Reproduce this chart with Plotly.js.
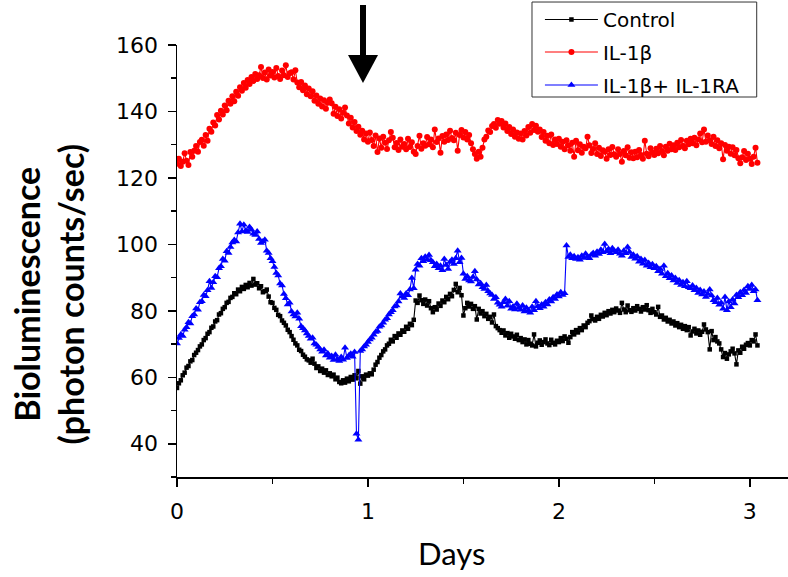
<!DOCTYPE html>
<html>
<head>
<meta charset="utf-8">
<script src="https://cdn.plot.ly/plotly-3.0.1.min.js"></script>
<style>
  html, body { margin: 0; padding: 0; background: #ffffff; }
  #chart { width: 788px; height: 577px; }
</style>
</head>
<body>
<div id="chart"></div>
<script>
// Sampling times (days), one reading every 0.01 day
const days = [
  0.00, 0.01, 0.02, 0.03, 0.04, 0.05, 0.06, 0.07, 0.08, 0.09,
  0.10, 0.11, 0.12, 0.13, 0.14, 0.15, 0.16, 0.17, 0.18, 0.19,
  0.20, 0.21, 0.22, 0.23, 0.24, 0.25, 0.26, 0.27, 0.28, 0.29,
  0.30, 0.31, 0.32, 0.33, 0.34, 0.35, 0.36, 0.37, 0.38, 0.39,
  0.40, 0.41, 0.42, 0.43, 0.44, 0.45, 0.46, 0.47, 0.48, 0.49,
  0.50, 0.51, 0.52, 0.53, 0.54, 0.55, 0.56, 0.57, 0.58, 0.59,
  0.60, 0.61, 0.62, 0.63, 0.64, 0.65, 0.66, 0.67, 0.68, 0.69,
  0.70, 0.71, 0.72, 0.73, 0.74, 0.75, 0.76, 0.77, 0.78, 0.79,
  0.80, 0.81, 0.82, 0.83, 0.84, 0.85, 0.86, 0.87, 0.88, 0.89,
  0.90, 0.91, 0.92, 0.93, 0.94, 0.95, 0.96, 0.97, 0.98, 0.99,
  1.00, 1.01, 1.02, 1.03, 1.04, 1.05, 1.06, 1.07, 1.08, 1.09,
  1.10, 1.11, 1.12, 1.13, 1.14, 1.15, 1.16, 1.17, 1.18, 1.19,
  1.20, 1.21, 1.22, 1.23, 1.24, 1.25, 1.26, 1.27, 1.28, 1.29,
  1.30, 1.31, 1.32, 1.33, 1.34, 1.35, 1.36, 1.37, 1.38, 1.39,
  1.40, 1.41, 1.42, 1.43, 1.44, 1.45, 1.46, 1.47, 1.48, 1.49,
  1.50, 1.51, 1.52, 1.53, 1.54, 1.55, 1.56, 1.57, 1.58, 1.59,
  1.60, 1.61, 1.62, 1.63, 1.64, 1.65, 1.66, 1.67, 1.68, 1.69,
  1.70, 1.71, 1.72, 1.73, 1.74, 1.75, 1.76, 1.77, 1.78, 1.79,
  1.80, 1.81, 1.82, 1.83, 1.84, 1.85, 1.86, 1.87, 1.88, 1.89,
  1.90, 1.91, 1.92, 1.93, 1.94, 1.95, 1.96, 1.97, 1.98, 1.99,
  2.00, 2.01, 2.02, 2.03, 2.04, 2.05, 2.06, 2.07, 2.08, 2.09,
  2.10, 2.11, 2.12, 2.13, 2.14, 2.15, 2.16, 2.17, 2.18, 2.19,
  2.20, 2.21, 2.22, 2.23, 2.24, 2.25, 2.26, 2.27, 2.28, 2.29,
  2.30, 2.31, 2.32, 2.33, 2.34, 2.35, 2.36, 2.37, 2.38, 2.39,
  2.40, 2.41, 2.42, 2.43, 2.44, 2.45, 2.46, 2.47, 2.48, 2.49,
  2.50, 2.51, 2.52, 2.53, 2.54, 2.55, 2.56, 2.57, 2.58, 2.59,
  2.60, 2.61, 2.62, 2.63, 2.64, 2.65, 2.66, 2.67, 2.68, 2.69,
  2.70, 2.71, 2.72, 2.73, 2.74, 2.75, 2.76, 2.77, 2.78, 2.79,
  2.80, 2.81, 2.82, 2.83, 2.84, 2.85, 2.86, 2.87, 2.88, 2.89,
  2.90, 2.91, 2.92, 2.93, 2.94, 2.95, 2.96, 2.97, 2.98, 2.99,
  3.00, 3.01, 3.02, 3.03, 3.04
];

// Control cultures (photon counts/sec)
const control = [
  56.8, 58.2, 59.1, 60.6, 61.4, 62.9, 63.4, 64.8, 65.2, 66.7,
  67.4, 68.2, 69.3, 69.9, 71.2, 71.8, 73.1, 73.6, 74.9, 75.3,
  76.8, 77.2, 78.9, 79.3, 80.6, 81.1, 82.4, 82.7, 83.9, 84.2,
  85.3, 85.0, 86.4, 85.9, 87.2, 86.6, 87.8, 87.1, 88.4, 87.6,
  89.6, 87.9, 88.3, 86.8, 87.4, 85.6, 85.9, 86.4, 84.3, 82.6,
  82.4, 80.9, 80.3, 78.8, 78.4, 77.1, 76.4, 75.6, 74.3, 73.6,
  72.4, 71.3, 70.2, 69.6, 68.3, 67.9, 66.8, 66.2, 65.4, 65.1,
  64.4, 65.6, 64.1, 62.8, 63.3, 61.9, 62.6, 61.4, 62.1, 60.7,
  61.2, 60.3, 60.8, 59.4, 59.9, 58.6, 58.2, 59.1, 58.4, 59.6,
  58.8, 60.1, 59.3, 60.6, 59.7, 61.9, 58.1, 60.3, 59.4, 60.8,
  60.5, 61.2, 60.9, 62.3, 63.8, 64.6, 65.9, 66.7, 67.8, 68.4,
  69.6, 70.1, 71.3, 70.8, 72.4, 71.9, 73.2, 72.8, 74.1, 73.7,
  75.2, 74.6, 76.1, 75.7, 77.3, 83.1, 82.4, 84.6, 83.2, 82.1,
  83.4, 81.6, 82.9, 80.8, 79.6, 81.1, 80.4, 82.2, 81.5, 83.1,
  82.6, 84.2, 83.5, 85.1, 84.4, 86.3, 88.1, 85.6, 86.9, 84.7,
  78.6, 80.8, 82.4, 81.3, 82.1, 80.6, 81.4, 77.4, 80.6, 79.2,
  79.9, 78.4, 79.1, 77.6, 78.2, 76.5, 78.9, 75.4, 74.8, 74.2,
  73.4, 74.1, 72.6, 73.3, 71.9, 73.1, 72.3, 71.6, 72.8, 71.2,
  71.8, 70.6, 71.4, 69.9, 71.2, 70.1, 69.6, 72.9, 69.3, 70.4,
  71.1, 69.8, 70.6, 71.4, 70.2, 69.7, 71.3, 70.4, 69.9, 71.0,
  70.6, 71.8, 70.9, 72.3, 71.6, 70.4, 72.1, 73.6, 72.9, 74.2,
  73.5, 74.8, 74.2, 75.6, 75.1, 76.4, 76.9, 78.6, 77.5, 77.1,
  78.2, 77.6, 78.8, 78.3, 79.4, 78.7, 79.9, 79.2, 80.3, 79.6,
  80.7, 80.1, 79.4, 82.4, 80.4, 79.6, 81.6, 80.2, 79.7, 80.8,
  80.1, 81.4, 80.6, 79.8, 81.1, 80.4, 81.7, 80.2, 79.4, 80.6,
  79.6, 78.9, 81.2, 78.2, 78.6, 77.4, 77.9, 76.8, 77.3, 76.2,
  76.8, 75.6, 76.3, 75.1, 75.8, 74.6, 75.4, 74.2, 75.1, 72.6,
  73.8, 74.6, 73.2, 74.1, 72.8, 73.7, 75.9, 74.4, 73.6, 68.4,
  73.9, 71.2, 72.1, 70.8, 70.2, 68.4, 66.1, 67.3, 65.6, 66.9,
  67.8, 68.6, 67.2, 63.9, 68.1, 67.4, 69.2, 68.6, 69.8, 70.3,
  69.6, 71.2, 70.8, 72.9, 69.6
];

// IL-1beta treated cultures
const il1b = [
  124.3, 125.8, 123.6, 124.9, 127.4, 125.2, 123.9, 127.8, 126.4, 128.2,
  129.6, 127.9, 130.8, 131.5, 129.7, 132.9, 131.2, 134.8, 133.9, 136.7,
  135.8, 138.9, 137.6, 140.2, 139.1, 141.8, 140.4, 143.2, 142.3, 144.6,
  143.1, 145.9, 144.7, 147.3, 146.2, 148.6, 147.1, 149.5, 148.3, 150.4,
  149.2, 151.3, 149.8, 150.9, 153.4, 150.1, 151.7, 149.6, 152.6, 150.8,
  151.9, 150.2, 153.1, 150.7, 149.8, 152.3, 150.9, 153.9, 150.4, 151.5,
  151.8, 149.6, 152.4, 148.7, 147.3, 148.9, 146.4, 147.8, 145.2, 146.9,
  144.6, 146.1, 143.2, 144.8, 142.3, 143.9, 141.5, 143.4, 140.8, 142.6,
  143.6, 142.5, 139.3, 141.4, 138.6, 140.7, 137.9, 139.6, 141.2, 138.8,
  136.4, 138.1, 135.2, 136.8, 134.1, 135.4, 133.0, 134.2, 131.6, 133.4,
  130.9, 133.7, 131.4, 129.6, 132.8, 127.8, 131.9, 129.1, 132.4, 130.6,
  128.7, 131.3, 133.8, 132.1, 129.2, 130.5, 128.4, 131.6, 129.4, 130.2,
  128.6, 131.8, 129.3, 130.7, 127.9, 127.2, 129.6, 132.7, 128.8, 130.4,
  129.7, 132.3, 130.1, 131.6, 129.2, 134.6, 130.8, 131.9, 127.6, 132.6,
  130.9, 133.1, 131.4, 134.2, 132.0, 131.3, 133.6, 128.2, 132.9, 134.4,
  132.2, 133.8, 131.6, 132.9, 130.4, 128.6, 127.2, 125.8, 127.9, 126.4,
  129.1, 131.6, 132.4, 134.3, 133.8, 135.6, 136.2, 135.1, 137.4, 136.3,
  137.1, 135.2, 136.4, 134.1, 135.3, 133.2, 134.6, 132.4, 133.7, 131.8,
  133.4, 131.6, 134.1, 132.8, 135.3, 133.6, 136.2, 134.4, 135.7, 133.9,
  134.6, 132.3, 133.8, 131.2, 132.7, 130.4, 133.1, 129.9, 131.6, 130.2,
  131.8, 129.4, 130.9, 128.6, 131.3, 129.8, 128.2, 130.6, 126.4, 131.2,
  128.3, 130.1, 127.6, 129.4, 128.9, 132.4, 129.8, 127.5, 128.7, 130.4,
  127.2, 129.1, 126.6, 128.3, 127.9, 125.8, 128.6, 126.9, 129.3, 127.1,
  126.4, 128.6, 127.2, 124.9, 128.1, 126.8, 129.2, 126.1, 127.7, 125.9,
  127.9, 126.2, 128.4, 126.9, 125.8, 131.2, 127.3, 126.5, 128.9, 127.6,
  126.9, 128.8, 127.4, 129.6, 128.1, 126.8, 129.4, 128.2, 130.3, 128.6,
  129.8, 128.4, 130.6, 129.2, 131.4, 129.7, 128.9, 131.2, 130.1, 131.8,
  130.4, 132.1, 129.8, 131.6, 133.4, 130.7, 134.6, 130.9, 132.8, 131.3,
  130.2, 132.4, 129.6, 131.3, 128.9, 130.4, 125.6, 129.9, 128.2, 129.4,
  127.3, 129.2, 126.8, 128.4, 125.9, 124.4, 126.2, 128.1, 125.4, 127.3,
  125.8, 124.2, 126.4, 129.1, 124.6
];

// IL-1beta + IL-1RA treated cultures
const il1bRa = [
  70.2, 71.8, 72.9, 72.4, 74.3, 75.1, 76.6, 76.2, 78.4, 78.9,
  80.7, 80.3, 82.6, 82.9, 84.8, 84.4, 86.2, 88.9, 86.9, 88.6,
  90.4, 90.1, 92.8, 93.4, 95.6, 95.1, 97.9, 97.4, 99.2, 100.6,
  101.3, 100.9, 103.6, 106.2, 103.9, 105.9, 104.1, 103.7, 105.2, 104.4,
  103.2, 102.8, 103.9, 101.6, 100.4, 100.9, 101.4, 98.1, 97.4, 95.8,
  94.9, 93.2, 91.4, 90.6, 88.2, 87.6, 85.1, 83.8, 81.9, 82.4,
  79.8, 78.9, 78.3, 79.4, 77.6, 75.4, 74.8, 74.1, 73.2, 72.4,
  71.6, 71.9, 70.2, 69.8, 69.1, 68.4, 67.7, 68.3, 66.6, 67.2,
  65.9, 66.4, 65.2, 66.8, 65.4, 64.9, 66.1, 65.3, 68.9, 65.8,
  66.6, 67.1, 66.2, 67.6, 43.0, 41.2, 67.9, 68.4, 69.3, 69.8,
  70.6, 71.4, 71.9, 72.8, 73.6, 73.9, 75.2, 75.6, 76.4, 77.3,
  77.8, 78.9, 79.6, 80.2, 81.3, 81.6, 82.8, 85.2, 84.3, 83.9,
  85.2, 84.7, 86.4, 89.9, 86.8, 92.4, 94.1, 93.6, 95.8, 94.9,
  96.3, 95.4, 96.8, 95.2, 94.6, 93.4, 94.1, 92.8, 93.6, 92.2,
  95.6, 93.8, 92.6, 94.7, 95.4, 94.1, 95.8, 98.1, 94.6, 95.9,
  91.2, 89.6, 90.4, 89.1, 88.8, 90.2, 91.9, 89.4, 87.9, 88.3,
  87.1, 86.6, 87.8, 85.9, 85.2, 84.8, 83.6, 84.1, 82.4, 81.8,
  81.2, 82.6, 83.6, 81.5, 82.9, 80.6, 81.3, 80.4, 82.1, 80.9,
  80.3, 81.6, 79.8, 80.9, 80.1, 79.4, 81.2, 80.2, 82.9, 81.4,
  80.8, 81.9, 81.2, 82.6, 81.9, 83.4, 82.8, 84.1, 83.6, 84.9,
  84.3, 85.6, 84.8, 85.3, 99.7, 96.2, 96.9, 95.8, 96.4, 95.6,
  96.1, 95.4, 96.6, 95.9, 97.2, 96.3, 95.8, 96.9, 97.4, 96.6,
  97.8, 97.1, 98.4, 97.6, 100.1, 97.9, 98.6, 97.3, 98.8, 98.1,
  97.6, 98.4, 97.2, 96.6, 98.1, 97.3, 99.2, 97.7, 96.2, 96.9,
  95.7, 96.4, 94.8, 95.6, 94.2, 95.3, 93.6, 94.4, 93.1, 94.0,
  92.8, 93.4, 91.9, 92.6, 91.2, 93.6, 90.4, 91.3, 89.8, 90.6,
  89.1, 89.9, 88.4, 89.2, 87.8, 88.6, 87.4, 88.9, 87.1, 86.8,
  87.6, 86.2, 86.9, 85.4, 86.3, 84.9, 85.8, 84.2, 85.1, 86.4,
  84.6, 83.2, 82.6, 83.9, 81.8, 82.4, 80.6, 84.2, 80.2, 82.8,
  81.1, 83.4, 82.2, 84.8, 84.1, 85.6, 84.7, 86.3, 85.4, 87.4,
  86.6, 87.8, 85.9, 86.4, 83.2
];

const seriesNames = ['Control', 'IL-1\u03b2', 'IL-1\u03b2+ IL-1RA'];
const yTickVals = [40, 60, 80, 100, 120, 140, 160];
const xTickVals = [0, 1, 2, 3];

const tickFont = { family: 'DejaVu Sans, Arial, sans-serif', size: 22, color: '#000' };
const legendFont = { family: 'DejaVu Sans, Arial, sans-serif', size: 20, color: '#000' };

const traces = [
  {
    x: days, y: control, name: seriesNames[0], legend: 'legend',
    type: 'scatter', mode: 'lines+markers',
    line: { color: '#000000', width: 1.1 },
    marker: { symbol: 'square', size: 4.5, color: '#000000' }
  },
  {
    x: days, y: il1b, name: seriesNames[1], legend: 'legend2',
    type: 'scatter', mode: 'lines+markers',
    line: { color: '#ff0000', width: 1.1 },
    marker: { symbol: 'circle', size: 6, color: '#ff0000' }
  },
  {
    x: days, y: il1bRa, name: seriesNames[2], legend: 'legend3',
    type: 'scatter', mode: 'lines+markers',
    line: { color: '#0000ff', width: 1.1 },
    marker: { symbol: 'triangle-up', size: 7, color: '#0000ff' }
  }
];

// one legend row per series, stacked inside a common frame
function legendRow(yPaper) {
  return {
    x: 0.594, y: yPaper, xanchor: 'left', yanchor: 'middle',
    bgcolor: 'rgba(0,0,0,0)', borderwidth: 0,
    font: legendFont, itemwidth: 53
  };
}

// Treatment time marker (arrow above the curves), in paper units
const shaftLeft = 0.2995, shaftRight = 0.3093;
const headLeft = 0.2799, headRight = 0.3290, headTip = 0.3044;

const layout = {
  width: 788,
  height: 577,
  margin: { l: 177, r: 0, t: 45, b: 100 },
  paper_bgcolor: '#ffffff',
  plot_bgcolor: '#ffffff',
  showlegend: true,
  legend: legendRow(1.0602),
  legend2: legendRow(0.9838),
  legend3: legendRow(0.9074),
  xaxis: {
    range: [0, 3.2],
    tickvals: xTickVals,
    ticktext: xTickVals.map(String),
    showline: true, linecolor: '#000', linewidth: 1.5,
    ticks: 'outside', ticklen: 8, tickwidth: 1.5, tickcolor: '#000',
    ticklabelstandoff: 6,
    minor: { ticks: 'outside', dtick: 0.5, tick0: 0, ticklen: 5, tickwidth: 1.5, tickcolor: '#000' },
    showgrid: false, zeroline: false,
    tickfont: tickFont
  },
  yaxis: {
    range: [30, 160],
    tickvals: yTickVals,
    ticktext: yTickVals.map(String),
    showline: true, linecolor: '#000', linewidth: 1.5,
    ticks: 'outside', ticklen: 8, tickwidth: 1.5, tickcolor: '#000',
    ticklabelstandoff: 5,
    minor: { ticks: 'outside', dtick: 10, tick0: 0, ticklen: 5, tickwidth: 1.5, tickcolor: '#000' },
    showgrid: false, zeroline: false,
    tickfont: tickFont
  },
  annotations: [
    {
      text: 'Days', xref: 'paper', yref: 'paper', x: 0.45, y: -0.175,
      xanchor: 'center', yanchor: 'middle', showarrow: false,
      font: { family: 'Lato, Carlito, sans-serif', size: 31, color: '#000' }
    },
    {
      text: '<b>Bioluminescence</b><br><b>(photon counts/sec)</b>',
      xref: 'paper', yref: 'paper', x: -0.21, y: 0.422,
      xanchor: 'center', yanchor: 'middle', showarrow: false, textangle: -90,
      font: { family: 'Lato, Carlito, sans-serif', size: 34, color: '#000' }
    }
  ],
  shapes: [
    // legend frame
    {
      type: 'rect', xref: 'paper', yref: 'paper', layer: 'above',
      x0: 0.581, x1: 0.9488, y0: 0.8796, y1: 1.0995,
      fillcolor: '#ffffff', line: { color: '#333333', width: 1 }
    },
    {
      type: 'rect', xref: 'paper', yref: 'paper',
      x0: shaftLeft, x1: shaftRight, y0: 0.972, y1: 1.0926,
      fillcolor: '#000', line: { width: 0 }
    },
    {
      type: 'path', xref: 'paper', yref: 'paper',
      path: 'M ' + headLeft + ' 0.9769 L ' + headRight + ' 0.9769 L ' + headTip + ' 0.912 Z',
      fillcolor: '#000', line: { width: 0 }
    }
  ]
};

Plotly.newPlot('chart', traces, layout, { displayModeBar: false, staticPlot: true });
</script>
</body>
</html>
